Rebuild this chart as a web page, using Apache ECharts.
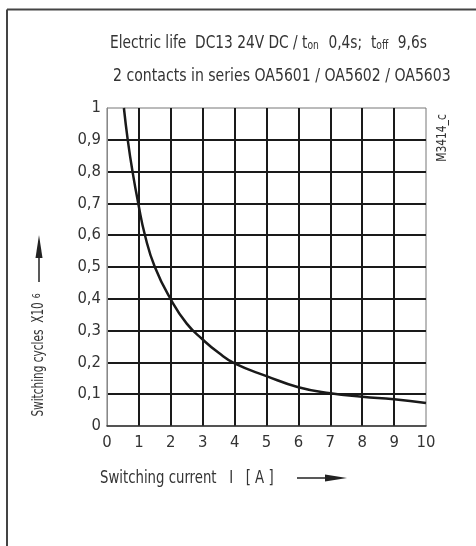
<!DOCTYPE html>
<html><head><meta charset="utf-8">
<script src="https://cdn.jsdelivr.net/npm/echarts@6/dist/echarts.min.js"></script>
<style>html,body{margin:0;padding:0;background:#fff}#c{width:476px;height:546px}</style>
</head><body><div id="c"></div>
<script>
const currentA = [0.53, 0.65, 0.8, 0.98, 1.19, 1.5, 2.0, 2.5, 3.0, 3.5, 4.0, 5, 6, 7, 8, 9, 10];
const cyclesM = [1.0, 0.9, 0.8, 0.7, 0.6, 0.5, 0.398, 0.322, 0.272, 0.23, 0.197, 0.157, 0.122, 0.103, 0.092, 0.084, 0.072];
const xTicks = ['0','1','2','3','4','5','6','7','8','9','10'];
const yTicks = ['0','0,1','0,2','0,3','0,4','0,5','0,6','0,7','0,8','0,9','1'];

const FONT = '"Liberation Sans Narrow","DejaVu Sans Condensed","Liberation Sans",sans-serif';
const TXT = '#333';
const chart = echarts.init(document.getElementById('c'), null, {renderer:'canvas'});
const data = currentA.map((x,i)=>[x, cyclesM[i]]);
chart.setOption({
  animation:false,
  backgroundColor:'#fff',
  grid:{left:107, top:108, width:319, height:318, show:true, borderColor:'#777', borderWidth:1,
        backgroundColor:'transparent', containLabel:false, outerBoundsMode:'none'},
  xAxis:{
    type:'value', min:0, max:10, interval:1,
    axisLine:{show:true, lineStyle:{color:'#333', width:1.5}},
    axisTick:{show:false},
    axisLabel:{fontFamily:FONT, fontSize:16.5, color:TXT, margin:8, formatter:(v)=>xTicks[Math.round(v)]},
    splitLine:{show:true, showMinLine:false, showMaxLine:false, lineStyle:{color:'#1a1a1a', width:2}}
  },
  yAxis:{
    type:'value', min:0, max:1, interval:0.1,
    axisLine:{show:true, lineStyle:{color:'#888', width:1}},
    axisTick:{show:false},
    axisLabel:{fontFamily:FONT, fontSize:16.5, color:TXT, margin:6, formatter:(v)=>yTicks[Math.round(v*10)]},
    splitLine:{show:true, showMinLine:false, showMaxLine:false, lineStyle:{color:'#1a1a1a', width:2}}
  },
  series:[{
    type:'line', data:data, smooth:0.5, showSymbol:false, symbol:'none',
    lineStyle:{color:'#1a1a1a', width:2.5}, z:5
  }],
  graphic:[
    {type:'line', shape:{x1:7, y1:9.5, x2:476, y2:9.5}, style:{stroke:'#444', lineWidth:2}},
    {type:'line', shape:{x1:7, y1:9.5, x2:7, y2:546}, style:{stroke:'#444', lineWidth:2}},
    {type:'text', x:110, y:43, scaleX:0.85, style:{
      text:'Electric life  DC13 24V DC / t{sub|on}  0,4s;  t{sub|off}  9,6s',
      font:'18px '+FONT, fill:TXT, align:'left', verticalAlign:'middle',
      rich:{sub:{fontFamily:FONT, fontSize:12, fill:TXT, verticalAlign:'bottom', lineHeight:12, padding:[0,1,0,0]}}
    }},
    {type:'text', x:113, y:76, scaleX:0.87, style:{
      text:'2 contacts in series OA5601 / OA5602 / OA5603',
      font:'18px '+FONT, fill:TXT, align:'left', verticalAlign:'middle'
    }},
    {type:'text', x:100, y:478, scaleX:0.82, style:{
      text:'Switching current   I   [ A ]',
      font:'18px '+FONT, fill:TXT, align:'left', verticalAlign:'middle'
    }},
    {type:'text', x:39, y:355, rotation:Math.PI/2, scaleX:0.78, style:{
      text:'Switching cycles  X10{sup|6}',
      font:'15px '+FONT, fill:TXT, align:'center', verticalAlign:'middle',
      rich:{sup:{fontFamily:FONT, fontSize:11, fill:TXT, verticalAlign:'top', lineHeight:11, padding:[0,0,0,5]}}
    }},
    {type:'text', x:442, y:138, rotation:Math.PI/2, scaleX:0.85, style:{text:'M3414_c', font:'14px '+FONT, fill:TXT, align:'center', verticalAlign:'middle'}},
    {type:'line', shape:{x1:297, y1:478, x2:335, y2:478}, style:{stroke:'#222', lineWidth:1.5}},
    {type:'polygon', shape:{points:[[325,474.5],[347,478],[325,481.5]]}, style:{fill:'#222'}},
    {type:'line', shape:{x1:39, y1:282, x2:39, y2:248}, style:{stroke:'#222', lineWidth:1.5}},
    {type:'polygon', shape:{points:[[35.5,258],[39,235],[42.5,258]]}, style:{fill:'#222'}}
  ]
});
</script></body></html>
